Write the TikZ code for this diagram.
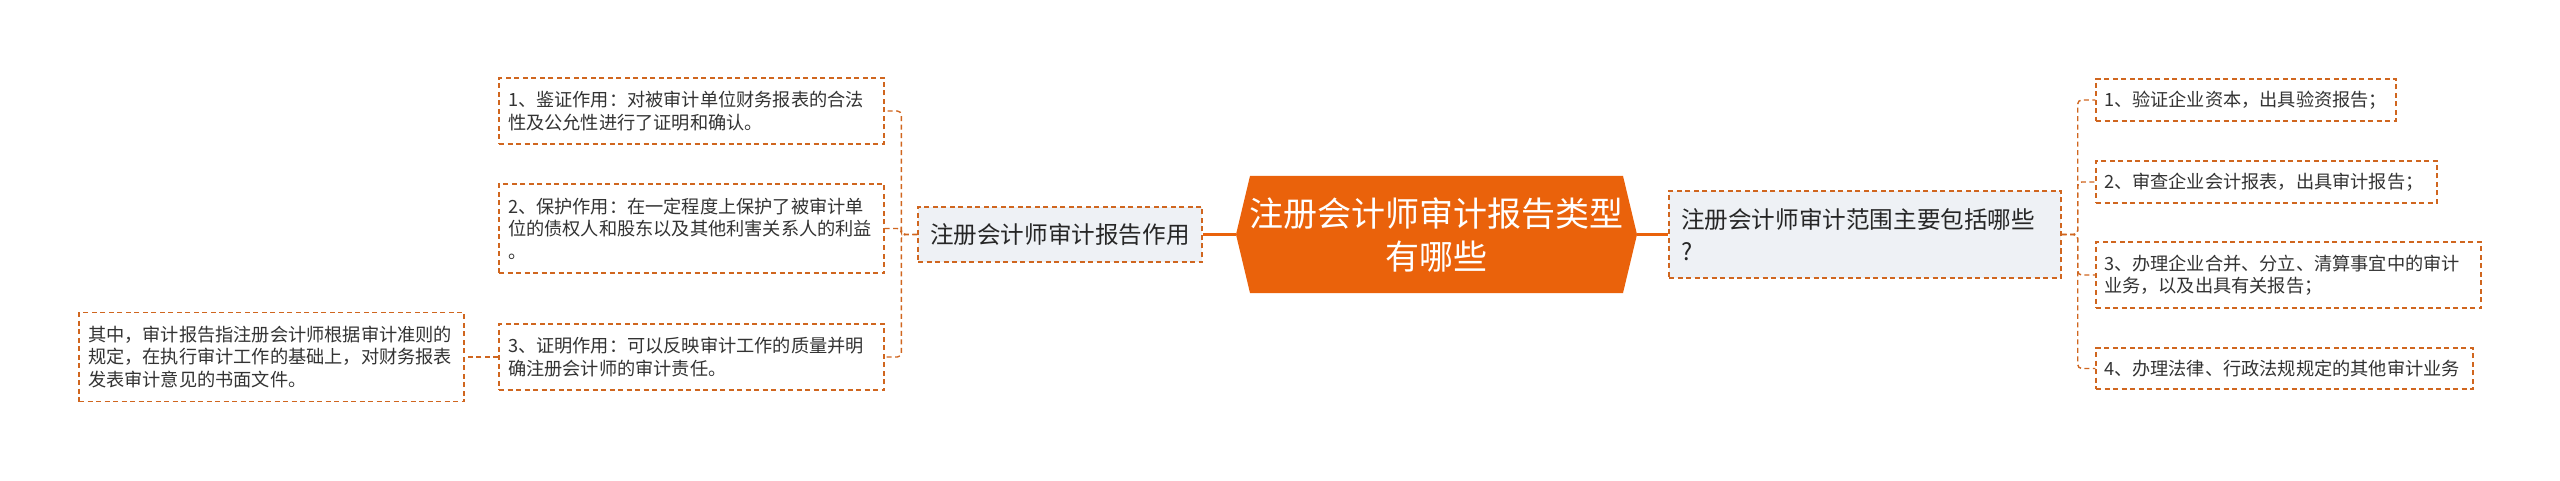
\documentclass[tikz,border=0pt]{standalone}
\usepackage{fontspec}
\newfontfamily\cjk{Noto Sans CJK SC}
\definecolor{hexc}{HTML}{EA620B}
\definecolor{dashcol}{HTML}{D0661F}
\definecolor{boxfill}{HTML}{EEF1F5}
\definecolor{txt}{HTML}{333333}
\begin{document}
\begin{tikzpicture}[x=1pt,y=-1pt,
  smallbox/.style={draw=dashcol, line width=1.4pt, dash pattern=on 5pt off 3.5pt,
    inner xsep=9pt, inner ysep=0pt, align=left, text=txt, anchor=center,
    font=\cjk\fontsize{18.2}{22.5}\selectfont},
  midbox/.style={draw=dashcol, fill=boxfill, line width=1.4pt, dash pattern=on 5pt off 3.5pt,
    inner xsep=12pt, inner ysep=0pt, align=left, text=black!85, anchor=center,
    font=\cjk\fontsize{23.6}{32}\selectfont},
  hexnode/.style={minimum width=401pt, minimum height=117pt, inner sep=0pt, align=center,
    text=white, font=\cjk\fontsize{34}{43}\selectfont,
    path picture={\fill[hexc] ([xshift=14pt]path picture bounding box.north west)
      -- ([xshift=-14pt]path picture bounding box.north east)
      -- (path picture bounding box.east)
      -- ([xshift=-14pt]path picture bounding box.south east)
      -- ([xshift=14pt]path picture bounding box.south west)
      -- (path picture bounding box.west) -- cycle;}},
  solidline/.style={draw=hexc, line width=2.5pt},
  dashline/.style={draw=dashcol, line width=1.4pt, dash pattern=on 5pt off 3.5pt, rounded corners=4pt}
]
\fill[white] (0,0) rectangle (2560,481);
\useasboundingbox (0,0) rectangle (2560,481);

% central
\node[hexnode] (hex) at (1436.5,234.5) {注册会计师审计报告类型\\有哪些};

% left main
\node[midbox, minimum width=284pt, minimum height=55pt, text width=260pt] (lm) at (1060,234.5) {注册会计师审计报告作用};
% right main
\node[midbox, minimum width=392pt, minimum height=87pt, text width=368pt] (rm) at (1865,234.5) {注册会计师审计范围主要包括哪些\\?};

% left children
\node[smallbox, minimum width=385pt, minimum height=66pt, text width=367pt] (b1) at (691.5,111) {1、鉴证作用：对被审计单位财务报表的合法\\性及公允性进行了证明和确认。};
\node[smallbox, minimum width=385pt, minimum height=89pt, text width=367pt] (b2) at (691.5,228.5) {2、保护作用：在一定程度上保护了被审计单\\位的债权人和股东以及其他利害关系人的利益\\。};
\node[smallbox, minimum width=385pt, minimum height=66pt, text width=367pt] (b3) at (691.5,357) {3、证明作用：可以反映审计工作的质量并明\\确注册会计师的审计责任。};
\node[smallbox, minimum width=385pt, minimum height=89pt, text width=367pt] (bl) at (271.5,357) {其中，审计报告指注册会计师根据审计准则的\\规定，在执行审计工作的基础上，对财务报表\\发表审计意见的书面文件。};

% right children
\node[smallbox, inner xsep=8pt, minimum width=300pt, minimum height=42pt, text width=284pt] (c1) at (2246,100) {1、验证企业资本，出具验资报告；};
\node[smallbox, inner xsep=8pt, minimum width=341pt, minimum height=42pt, text width=325pt] (c2) at (2266.5,182) {2、审查企业会计报表，出具审计报告；};
\node[smallbox, inner xsep=8pt, minimum width=385pt, minimum height=66pt, text width=369pt] (c3) at (2288.5,275) {3、办理企业合并、分立、清算事宜中的审计\\业务，以及出具有关报告；};
\node[smallbox, inner xsep=8pt, minimum width=377pt, minimum height=41pt, text width=361pt] (c4) at (2284.5,368.5) {4、办理法律、行政法规规定的其他审计业务};

% connectors
\draw[solidline] (lm.east) -- (hex.west);
\draw[solidline] (hex.east) -- (rm.west);
\foreach \c in {b1,b2,b3} \draw[dashline] (lm.west) -- ++(-16,0) |- (\c.east);
\draw[dashline] (b3.west) -- (bl.east);
\foreach \c in {c1,c2,c3,c4} \draw[dashline] (rm.east) -- ++(16,0) |- (\c.west);
\end{tikzpicture}
\end{document}
